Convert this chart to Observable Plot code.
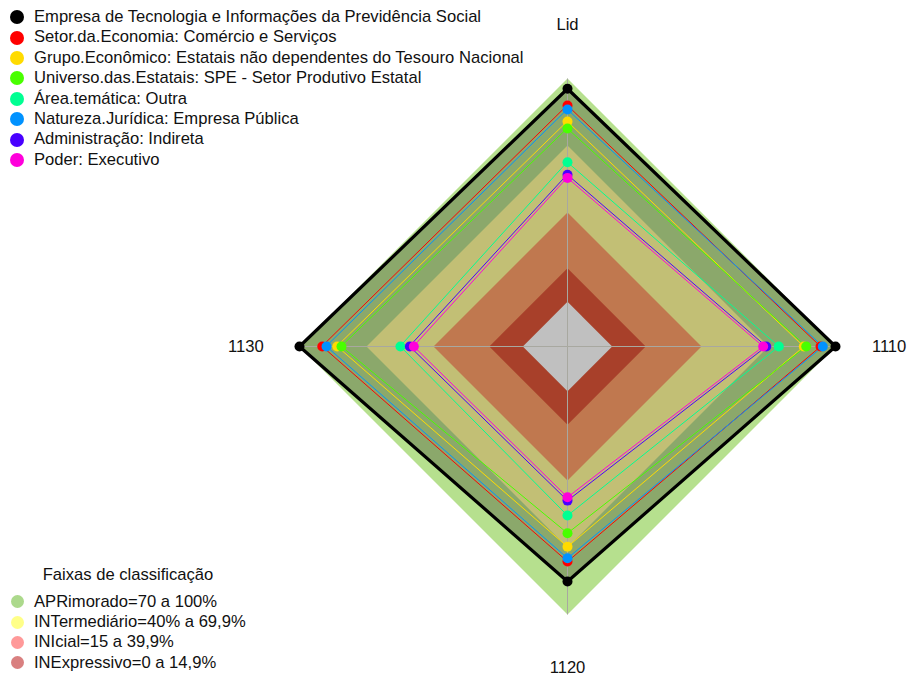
<!DOCTYPE html>
<html>
<head>
<meta charset="utf-8">
<script src="https://cdn.jsdelivr.net/npm/d3@7"></script>
<script src="https://cdn.jsdelivr.net/npm/@observablehq/plot@0.6"></script>
<style>
  html, body { margin: 0; padding: 0; background: #fff; }
  #wrap { position: relative; width: 911px; height: 680px; font-family: "Liberation Sans", Arial, sans-serif; color: #111; }
  #chart svg { display: block; }
  .legend { position: absolute; font-size: 16.6px; }
  .row { position: relative; height: 20.4px; line-height: 20.4px; white-space: nowrap; }
  .sw { position: absolute; border-radius: 50%; }
  .lbl { position: absolute; left: 24px; top: 0; }
  #leg2title { position: absolute; left: 0; width: 256px; top: 565px; text-align: center; font-size: 16.6px; }
</style>
</head>
<body>
<div id="wrap">
  <div id="chart"></div>
  <div id="leg1" class="legend" style="left:10px; top:7px;"></div>
  <div id="leg2title">Faixas de classificação</div>
  <div id="leg2" class="legend" style="left:10px; top:591.5px;"></div>
</div>
<script>
// Axes (clockwise from top)
const axes = ["Lid", "1110", "1120", "1130"];

// Series names and colours (legend order = drawing order)
const seriesNames = [
  "Empresa de Tecnologia e Informações da Previdência Social",
  "Setor.da.Economia: Comércio e Serviços",
  "Grupo.Econômico: Estatais não dependentes do Tesouro Nacional",
  "Universo.das.Estatais: SPE - Setor Produtivo Estatal",
  "Área.temática: Outra",
  "Natureza.Jurídica: Empresa Pública",
  "Administração: Indireta",
  "Poder: Executivo"
];
const seriesColors = ["#000000", "#FF0000", "#FFDB00", "#49FF00", "#00FF92", "#0092FF", "#4900FF", "#FF00DB"];

// Values (%) per axis: Lid, 1110, 1120, 1130
const empresa  = [95.4, 100.0, 85.2, 100.0];
const setor    = [87.9, 93.3, 76.3, 89.8];
const grupo    = [80.7, 85.8, 69.7, 83.1];
const universo = [77.6, 86.9, 63.6, 81.2];
const area     = [62.5, 74.6, 55.7, 54.8];
const natureza = [86.1, 94.3, 74.8, 87.9];
const admin    = [56.9, 69.0, 49.0, 50.6];
const poder    = [55.5, 67.6, 47.5, 48.8];
const seriesValues = [empresa, setor, grupo, universo, area, natureza, admin, poder];

// Classification bands
const bandLabels = ["APRimorado=70 a 100%", "INTermediário=40% a 69,9%", "INIcial=15 a 39,9%", "INExpressivo=0 a 14,9%"];
const bandUpper = [100, 70, 40, 15];
const bandLegendColors = ["#acd98c", "#ffff88", "#ff9999", "#d98080"];
const bandFillColors = ["#b6e08e", "#c2bf75", "#c0784f", "#a8402a"];
const holeColor = "#c0c0c0";
const insideTopColor = "#8ba86b";

// radial mapping like fmsb (centre hole = 1/6 of the radius)
const rad = v => (1 + 5 * v / 100) / 6;
const ang = i => i * Math.PI / 2;
const pt = (v, i) => ({x: rad(v) * Math.sin(ang(i)), y: rad(v) * Math.cos(ang(i))});
const poly = vals => vals.map((v, i) => ({...pt(v, i), axis: axes[i], v}));
const ring = v => poly(axes.map(() => v));

const R = 268, cx = 567, cy = 346, W = 911, H = 680;

const marks = [];
// outer band (100%)
marks.push(Plot.line(ring(100), {x: "x", y: "y", curve: "linear-closed", fill: bandFillColors[0], stroke: "none"}));
// region inside first series polygon
marks.push(Plot.line(poly(empresa), {x: "x", y: "y", curve: "linear-closed", fill: insideTopColor, stroke: "none"}));
// inner bands
for (let b = 1; b < bandUpper.length; b++) {
  marks.push(Plot.line(ring(bandUpper[b]), {x: "x", y: "y", curve: "linear-closed", fill: bandFillColors[b], stroke: "none"}));
}
marks.push(Plot.line(ring(0), {x: "x", y: "y", curve: "linear-closed", fill: holeColor, stroke: "none"}));
// axis spokes
const spokes = axes.map((a, i) => ({x1: 0, y1: 0, x2: Math.sin(ang(i)), y2: Math.cos(ang(i))}));
marks.push(Plot.link(spokes, {x1: "x1", y1: "y1", x2: "x2", y2: "y2", stroke: "#a8a8a0", strokeWidth: 1}));
// series
seriesValues.forEach((vals, s) => {
  const p = poly(vals);
  marks.push(Plot.line(p, {x: "x", y: "y", curve: "linear-closed", stroke: seriesColors[s], strokeWidth: s === 0 ? 3.2 : 1}));
});
seriesValues.forEach((vals, s) => {
  const p = poly(vals);
  marks.push(Plot.dot(p, {x: "x", y: "y", r: 5, fill: seriesColors[s], stroke: "none"}));
});
// axis labels
const labelPts = axes.map((a, i) => ({label: a, x: 1.2 * Math.sin(ang(i)), y: 1.2 * Math.cos(ang(i))}));
marks.push(Plot.text(labelPts, {x: "x", y: "y", text: "label", fontSize: 16.6, fill: "#111", fontFamily: "Liberation Sans, Arial, sans-serif"}));

const chart = Plot.plot({
  width: W, height: H, margin: 0,
  x: {domain: [-cx / R, (W - cx) / R], range: [0, W], axis: null},
  y: {domain: [-(H - cy) / R, cy / R], range: [H, 0], axis: null},
  style: {background: "transparent", overflow: "visible"},
  marks
});
document.getElementById("chart").appendChild(chart);

// legends
const leg1 = document.getElementById("leg1");
seriesNames.forEach((n, i) => {
  const row = document.createElement("div");
  row.className = "row";
  row.innerHTML = `<span class="sw" style="left:-0.5px;top:3.2px;width:14px;height:14px;background:${seriesColors[i]}"></span><span class="lbl">${n}</span>`;
  leg1.appendChild(row);
});
const leg2 = document.getElementById("leg2");
bandLabels.forEach((n, i) => {
  const row = document.createElement("div");
  row.className = "row";
  row.innerHTML = `<span class="sw" style="left:0.5px;top:3.7px;width:13px;height:13px;background:${bandLegendColors[i]}"></span><span class="lbl">${n}</span>`;
  leg2.appendChild(row);
});
</script>
</body>
</html>
